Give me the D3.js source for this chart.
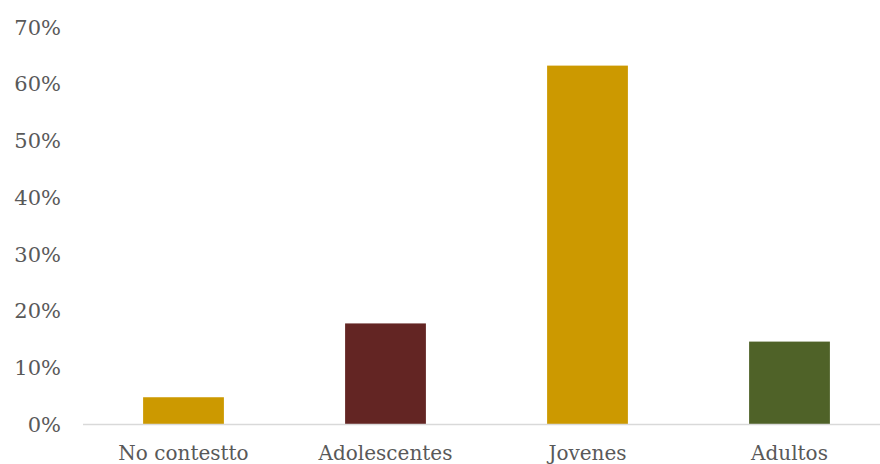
<!DOCTYPE html>
<html>
<head>
<meta charset="utf-8">
<script src="https://cdn.jsdelivr.net/npm/d3@7"></script>
<style>
  html, body { margin: 0; padding: 0; background: #fff; }
  svg { display: block; }
</style>
</head>
<body>
<script>
const categories = ["No contestto", "Adolescentes", "Jovenes", "Adultos"];
const values = [4.8, 17.8, 63.2, 14.6];
const barColors = ["#CC9900", "#632523", "#CC9900", "#4F6228"];
const yTicks = [0, 10, 20, 30, 40, 50, 60, 70];
const yTickLabels = ["0%", "10%", "20%", "30%", "40%", "50%", "60%", "70%"];

const W = 880, H = 464;
const svg = d3.select("body").append("svg").attr("width", W).attr("height", H);

const font = "'DejaVu Serif', serif";
const textColor = "#595959";

const x = d3.scaleBand().domain(categories).range([82.5, 890.5])
  .paddingInner(0.6).paddingOuter(0.3);
const y = d3.scaleLinear().domain([0, 70]).range([424.5, 27]);

// bars
svg.append("g").selectAll("rect").data(values).join("rect")
  .attr("x", (d, i) => x(categories[i]))
  .attr("width", x.bandwidth())
  .attr("y", d => y(d))
  .attr("height", d => y(0) - y(d))
  .attr("fill", (d, i) => barColors[i]);

// x axis line
svg.append("line")
  .attr("x1", 83).attr("x2", W)
  .attr("y1", y(0)).attr("y2", y(0))
  .attr("stroke", "#D9D9D9").attr("stroke-width", 1.5);

// y tick labels
svg.append("g").selectAll("text").data(yTicks).join("text")
  .attr("x", 61)
  .attr("y", d => y(d))
  .attr("dy", "0.36em")
  .attr("text-anchor", "end")
  .attr("font-family", font)
  .attr("font-size", 21)
  .attr("fill", textColor)
  .text((d, i) => yTickLabels[i]);

// category labels
svg.append("g").selectAll("text").data(categories).join("text")
  .attr("x", d => x(d) + x.bandwidth() / 2)
  .attr("y", 460)
  .attr("text-anchor", "middle")
  .attr("font-family", font)
  .attr("font-size", 20)
  .attr("fill", textColor)
  .text(d => d);
</script>
</body>
</html>
